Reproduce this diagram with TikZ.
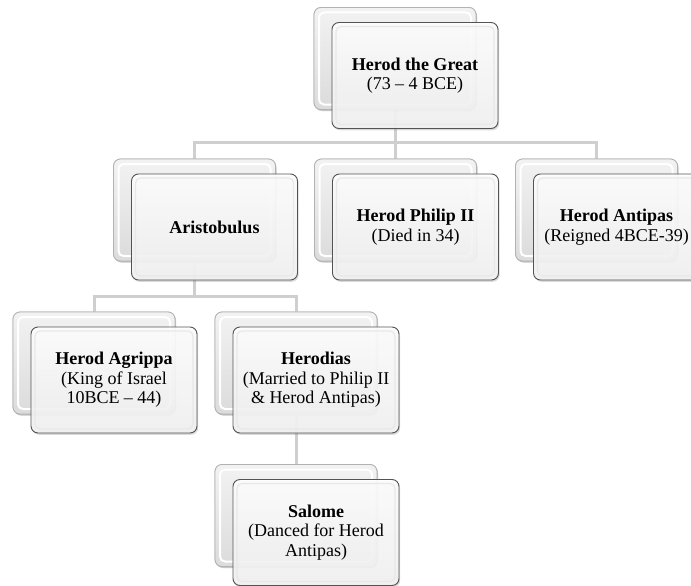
\documentclass[tikz,border=0pt]{standalone}
\usepackage{fontspec}
\setmainfont{Liberation Serif}
\usetikzlibrary{shadows}
\begin{document}
\begin{tikzpicture}[x=1pt,y=-1pt,
  frontbox/.style={rectangle, rounded corners=7pt, minimum width=166pt, minimum height=106pt,
    draw=gray!65!black, line width=0.9pt, top color=white, bottom color=gray!10,
    fill opacity=0.9, text opacity=1, align=center, font=\fontsize{18}{19.5}\selectfont,
    drop shadow={opacity=0.3, shadow xshift=1.2pt, shadow yshift=-1.8pt},
    path picture={\draw[gray!18, line width=1.2pt, rounded corners=5pt]
      ([shift={(4pt,-4pt)}]path picture bounding box.north west) rectangle
      ([shift={(-4pt,4pt)}]path picture bounding box.south east);}},
  backbox/.style={rectangle, rounded corners=7pt, minimum width=162pt, minimum height=102pt,
    draw=gray!60, line width=0.8pt, top color=gray!10, bottom color=gray!28,
    drop shadow={opacity=0.25, shadow xshift=1pt, shadow yshift=-1.5pt},
    path picture={\draw[white, line width=2pt, rounded corners=5pt]
      ([shift={(5pt,-5pt)}]path picture bounding box.north west) rectangle
      ([shift={(-5pt,5pt)}]path picture bounding box.south east);}},
  conn/.style={draw=gray!38, line width=3pt}]
\useasboundingbox (0,0) rectangle (691,586);

% back boxes (positions of the stacked layer)
\node[backbox] (hgb) at (395,58.5) {};
\node[backbox] (arb) at (194.5,210) {};
\node[backbox] (phb) at (395.5,210) {};
\node[backbox] (anb) at (596.5,210) {};
\node[backbox] (agb) at (94,363) {};
\node[backbox] (hdb) at (296,363) {};
\node[backbox] (sab) at (296,515.5) {};

% bus coordinates
\coordinate (bus1) at (0,142);
\coordinate (bus2) at (0,296);

% connectors
\draw[conn] (hgb.center) -- (hgb.center |- bus1);
\draw[conn] (arb.north) |- (anb.north |- bus1) -- (anb.north);
\draw[conn] (phb.north) -- (phb.north |- bus1);
\draw[conn] (arb.center) -- (arb.center |- bus2);
\draw[conn] (agb.north) |- (hdb.north |- bus2) -- (hdb.north);
\draw[conn] (hdb.center) -- (sab.north);

% redraw back boxes above connectors
\node[backbox] at (hgb) {};
\node[backbox] at (arb) {};
\node[backbox] at (phb) {};
\node[backbox] at (anb) {};
\node[backbox] at (agb) {};
\node[backbox] at (hdb) {};
\node[backbox] at (sab) {};

% front boxes
\node[frontbox] (hg) at (415,75.5) {\textbf{Herod the Great}\\(73 – 4 BCE)};
\node[frontbox] (ar) at (214.5,227) {\textbf{Aristobulus}};
\node[frontbox] (ph) at (415.5,227) {\textbf{Herod Philip II}\\(Died in 34)};
\node[frontbox] (an) at (616.5,227) {\textbf{Herod Antipas}\\(Reigned 4BCE-39)};
\node[frontbox] (ag) at (114,380) {\textbf{Herod Agrippa}\\(King of Israel\\10BCE – 44)};
\node[frontbox] (hd) at (316,380) {\textbf{Herodias}\\(Married to Philip II\\\& Herod Antipas)};
\node[frontbox] (sa) at (316,532.5) {\textbf{Salome}\\(Danced for Herod\\Antipas)};
\end{tikzpicture}
\end{document}
